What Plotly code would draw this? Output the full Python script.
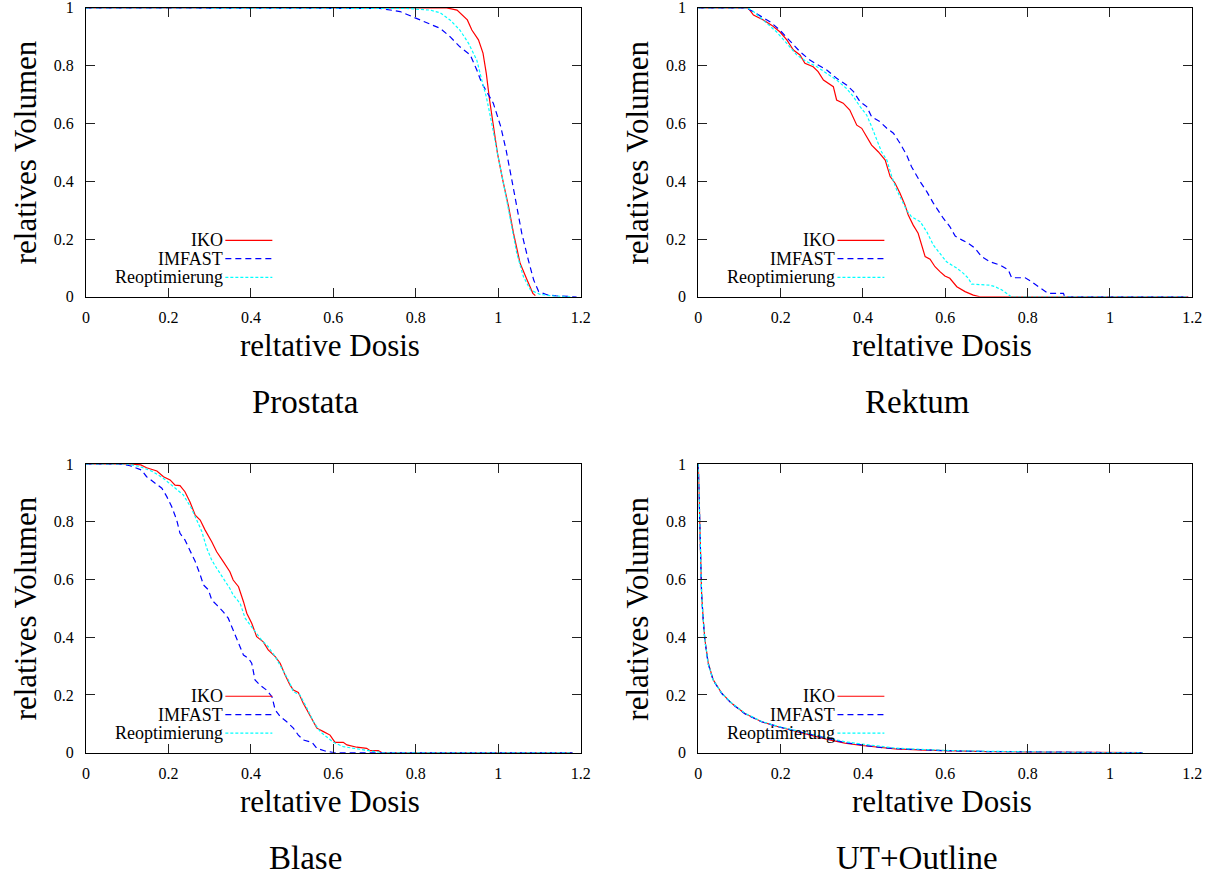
import plotly.graph_objects as go

# ---------------------------------------------------------------
# Dose-volume histograms (relative dose vs. relative volume)
# for three planning methods and four structures.
# ---------------------------------------------------------------

methods = ["IKO", "IMFAST", "Reoptimierung"]
structures = ["Prostata", "Rektum", "Blase", "UT+Outline"]

x_tick_vals = [0, 0.2, 0.4, 0.6, 0.8, 1.0, 1.2]
x_tick_text = ["0", "0.2", "0.4", "0.6", "0.8", "1", "1.2"]
y_tick_vals = [0, 0.2, 0.4, 0.6, 0.8, 1.0]
y_tick_text = ["0", "0.2", "0.4", "0.6", "0.8", "1"]

# --- Prostata ---
prostata_iko_dose = [0, 0.875, 0.90, 0.925, 0.936, 0.952, 0.963, 0.971, 0.979, 0.988, 0.998,
                     1.011, 1.025, 1.037, 1.053, 1.070, 1.084, 1.090]
prostata_iko_vol = [1, 1, 0.992, 0.958, 0.923, 0.889, 0.843, 0.773, 0.681, 0.589, 0.497,
                    0.404, 0.312, 0.220, 0.116, 0.058, 0.012, 0.004]
prostata_imfast_dose = [0, 0.70, 0.713, 0.762, 0.803, 0.859, 0.883, 0.907, 0.932, 0.948, 0.960,
                        0.972, 0.988, 1.006, 1.019, 1.033, 1.045, 1.057, 1.073, 1.086, 1.098,
                        1.118, 1.14, 1.19]
prostata_imfast_vol = [1, 1, 0.998, 0.987, 0.963, 0.929, 0.900, 0.865, 0.837, 0.785, 0.739,
                       0.710, 0.670, 0.589, 0.508, 0.404, 0.312, 0.220, 0.127, 0.058, 0.018,
                       0.007, 0.003, 0]
prostata_reopt_dose = [0, 0.76, 0.778, 0.835, 0.859, 0.883, 0.907, 0.928, 0.948, 0.960, 0.971,
                       0.981, 0.993, 1.006, 1.019, 1.033, 1.045, 1.061, 1.078, 1.10, 1.13, 1.18]
prostata_reopt_vol = [1, 1, 0.998, 0.992, 0.983, 0.958, 0.923, 0.877, 0.819, 0.750, 0.692,
                      0.623, 0.531, 0.439, 0.346, 0.243, 0.150, 0.070, 0.024, 0.009, 0.003, 0]

# --- Rektum ---
rektum_iko_dose = [0, 0.121, 0.134, 0.142, 0.158, 0.178, 0.198, 0.215, 0.231, 0.247, 0.259,
                   0.279, 0.291, 0.304, 0.328, 0.336, 0.352, 0.368, 0.377, 0.385, 0.397,
                   0.409, 0.421, 0.437, 0.454, 0.466, 0.478, 0.490, 0.502, 0.510, 0.522,
                   0.534, 0.543, 0.551, 0.563, 0.575, 0.587, 0.599, 0.611, 0.628, 0.648,
                   0.668, 0.684, 1.19]
rektum_iko_vol = [1, 1, 0.975, 0.969, 0.958, 0.940, 0.917, 0.889, 0.854, 0.837, 0.808,
                  0.796, 0.779, 0.750, 0.727, 0.681, 0.670, 0.646, 0.618, 0.594, 0.583,
                  0.554, 0.525, 0.502, 0.473, 0.416, 0.393, 0.358, 0.318, 0.283, 0.248,
                  0.220, 0.173, 0.139, 0.130, 0.104, 0.087, 0.072, 0.064, 0.035, 0.018,
                  0.006, 0, 0]
rektum_imfast_dose = [0, 0.117, 0.142, 0.174, 0.198, 0.223, 0.247, 0.271, 0.291, 0.312, 0.336,
                      0.360, 0.377, 0.393, 0.409, 0.421, 0.441, 0.458, 0.474, 0.490, 0.506,
                      0.518, 0.539, 0.555, 0.571, 0.595, 0.611, 0.624, 0.640, 0.656, 0.672,
                      0.688, 0.709, 0.733, 0.753, 0.761, 0.794, 0.808, 0.826, 0.850, 0.887,
                      0.890, 1.19]
rektum_imfast_vol = [1, 1, 0.979, 0.952, 0.923, 0.883, 0.848, 0.819, 0.802, 0.785, 0.756,
                     0.733, 0.710, 0.675, 0.658, 0.623, 0.606, 0.583, 0.566, 0.531, 0.491,
                     0.450, 0.398, 0.364, 0.324, 0.272, 0.243, 0.210, 0.197, 0.185, 0.168,
                     0.139, 0.121, 0.110, 0.093, 0.066, 0.066, 0.054, 0.035, 0.012, 0.012,
                     0, 0]
rektum_reopt_dose = [0, 0.12, 0.134, 0.166, 0.190, 0.215, 0.239, 0.263, 0.288, 0.312, 0.336,
                     0.360, 0.377, 0.393, 0.409, 0.421, 0.433, 0.445, 0.458, 0.470, 0.482,
                     0.494, 0.506, 0.518, 0.539, 0.555, 0.571, 0.587, 0.603, 0.628, 0.644,
                     0.656, 0.664, 0.709, 0.721, 0.737, 0.753, 0.760, 1.19]
rektum_reopt_vol = [1, 1, 0.987, 0.946, 0.917, 0.877, 0.837, 0.814, 0.796, 0.773, 0.750,
                    0.721, 0.692, 0.658, 0.629, 0.589, 0.543, 0.502, 0.473, 0.416, 0.370,
                    0.335, 0.300, 0.277, 0.260, 0.225, 0.179, 0.150, 0.121, 0.099, 0.081,
                    0.064, 0.044, 0.040, 0.035, 0.024, 0.006, 0, 0]

# --- Blase ---
blase_iko_dose = [0, 0.107, 0.133, 0.147, 0.172, 0.188, 0.204, 0.216, 0.228, 0.240, 0.252,
                  0.265, 0.277, 0.289, 0.305, 0.317, 0.333, 0.349, 0.357, 0.370, 0.382,
                  0.390, 0.402, 0.414, 0.430, 0.442, 0.459, 0.471, 0.483, 0.495, 0.503,
                  0.515, 0.527, 0.544, 0.560, 0.576, 0.592, 0.604, 0.624, 0.633, 0.657,
                  0.681, 0.689, 0.709, 0.718, 1.18]
blase_iko_vol = [1, 1, 0.997, 0.987, 0.976, 0.956, 0.945, 0.927, 0.925, 0.904, 0.869,
                 0.823, 0.806, 0.771, 0.731, 0.696, 0.662, 0.627, 0.598, 0.575, 0.523,
                 0.483, 0.448, 0.402, 0.384, 0.356, 0.333, 0.310, 0.269, 0.234, 0.217,
                 0.209, 0.171, 0.125, 0.085, 0.073, 0.061, 0.036, 0.036, 0.027, 0.019,
                 0.015, 0.007, 0.007, 0, 0]
blase_imfast_dose = [0, 0.083, 0.107, 0.135, 0.147, 0.167, 0.184, 0.196, 0.208, 0.220, 0.228,
                     0.240, 0.252, 0.265, 0.277, 0.285, 0.297, 0.305, 0.317, 0.333, 0.345,
                     0.357, 0.370, 0.382, 0.394, 0.402, 0.410, 0.422, 0.438, 0.451, 0.459,
                     0.471, 0.487, 0.503, 0.515, 0.527, 0.548, 0.560, 0.580, 0.600, 1.18]
blase_imfast_vol = [1, 1, 0.994, 0.979, 0.956, 0.933, 0.916, 0.887, 0.852, 0.806, 0.760,
                    0.737, 0.702, 0.662, 0.616, 0.581, 0.564, 0.529, 0.512, 0.488, 0.466,
                    0.425, 0.379, 0.338, 0.327, 0.310, 0.252, 0.234, 0.217, 0.194, 0.148,
                    0.125, 0.107, 0.085, 0.061, 0.044, 0.036, 0.015, 0.006, 0, 0]
blase_reopt_dose = [0, 0.099, 0.131, 0.163, 0.188, 0.212, 0.236, 0.256, 0.269, 0.281, 0.293,
                    0.305, 0.317, 0.333, 0.349, 0.357, 0.374, 0.386, 0.398, 0.410, 0.426,
                    0.442, 0.459, 0.475, 0.491, 0.503, 0.519, 0.536, 0.552, 0.568, 0.584,
                    0.600, 0.624, 0.657, 0.689, 0.718, 1.18]
blase_reopt_vol = [1, 1, 0.991, 0.973, 0.950, 0.921, 0.893, 0.846, 0.806, 0.766, 0.708,
                   0.667, 0.639, 0.604, 0.569, 0.546, 0.517, 0.466, 0.442, 0.419, 0.390,
                   0.367, 0.333, 0.292, 0.252, 0.211, 0.200, 0.154, 0.107, 0.073, 0.055,
                   0.036, 0.021, 0.013, 0.006, 0, 0]

# --- UT+Outline ---
ut_iko_dose = [0, 0.002, 0.004, 0.006, 0.008, 0.012, 0.016, 0.024, 0.036, 0.057, 0.081,
               0.113, 0.154, 0.194, 0.235, 0.275, 0.316, 0.356, 0.397, 0.437, 0.478,
               0.55, 0.60, 0.70, 0.80, 0.90, 1.00, 1.08]
ut_iko_vol = [1, 0.898, 0.783, 0.667, 0.552, 0.460, 0.392, 0.312, 0.253, 0.206, 0.171,
              0.136, 0.107, 0.090, 0.076, 0.060, 0.045, 0.033, 0.025, 0.018, 0.013,
              0.009, 0.007, 0.004, 0.002, 0.001, 0.0005, 0]
ut_imfast_dose = [0, 0.002, 0.004, 0.006, 0.008, 0.012, 0.016, 0.024, 0.036, 0.057, 0.081,
                  0.113, 0.154, 0.194, 0.235, 0.275, 0.316, 0.356, 0.397, 0.437, 0.478,
                  0.55, 0.60, 0.70, 0.80, 0.90, 1.00, 1.08]
ut_imfast_vol = [1, 0.896, 0.780, 0.664, 0.550, 0.458, 0.388, 0.308, 0.251, 0.205, 0.170,
                 0.135, 0.107, 0.090, 0.076, 0.061, 0.046, 0.035, 0.027, 0.019, 0.014,
                 0.009, 0.007, 0.004, 0.002, 0.001, 0.0005, 0]
ut_reopt_dose = [0, 0.002, 0.004, 0.006, 0.008, 0.012, 0.016, 0.024, 0.036, 0.057, 0.081,
                 0.113, 0.154, 0.194, 0.235, 0.275, 0.316, 0.356, 0.397, 0.437, 0.478,
                 0.55, 0.60, 0.70, 0.80, 0.90, 1.00, 1.08]
ut_reopt_vol = [1, 0.900, 0.785, 0.668, 0.553, 0.462, 0.390, 0.309, 0.252, 0.206, 0.172,
                0.137, 0.108, 0.091, 0.077, 0.063, 0.049, 0.038, 0.030, 0.022, 0.016,
                0.011, 0.008, 0.005, 0.002, 0.001, 0.0005, 0]

panel_series = [
    [(prostata_iko_dose, prostata_iko_vol), (prostata_imfast_dose, prostata_imfast_vol),
     (prostata_reopt_dose, prostata_reopt_vol)],
    [(rektum_iko_dose, rektum_iko_vol), (rektum_imfast_dose, rektum_imfast_vol),
     (rektum_reopt_dose, rektum_reopt_vol)],
    [(blase_iko_dose, blase_iko_vol), (blase_imfast_dose, blase_imfast_vol),
     (blase_reopt_dose, blase_reopt_vol)],
    [(ut_iko_dose, ut_iko_vol), (ut_imfast_dose, ut_imfast_vol),
     (ut_reopt_dose, ut_reopt_vol)],
]

# ---------------------------------------------------------------
# Styling
# ---------------------------------------------------------------
W, H = 1215, 876
FONT = "Liberation Serif, Times New Roman, serif"
line_styles = [
    dict(color="#ff0000", width=1.2, dash="solid"),
    dict(color="#0000ff", width=1.2, dash="6px,4px"),
    dict(color="#00ffff", width=1.2, dash="3px,2px"),
]

# panel frames in pixels: (left, right, top, bottom)
frames = [
    (86.0, 580.7, 7.8, 296.8),
    (698.3, 1192.3, 7.8, 296.8),
    (86.0, 580.7, 464.0, 752.7),
    (698.3, 1192.3, 464.0, 752.7),
]

fig = go.Figure()
annotations = []
shapes = []

# legend geometry (data units inside each panel)
legend_rows = [0.1955, 0.1318, 0.0675]
legend_text_x = 0.337
legend_line_x = (0.338, 0.452)

for i, (struct, series) in enumerate(zip(structures, panel_series)):
    n = "" if i == 0 else str(i + 1)
    xa, ya = "x" + n, "y" + n
    left, right, top, bottom = frames[i]

    for (dose, vol), name, st in zip(series, methods, line_styles):
        fig.add_trace(go.Scatter(
            x=dose, y=vol, mode="lines", name=name, line=st,
            xaxis=xa, yaxis=ya, showlegend=False, hoverinfo="skip",
        ))

    axis_common = dict(
        showline=True, linecolor="black", linewidth=1, mirror="ticks",
        ticks="inside", ticklen=9, tickwidth=1, tickcolor="#222222",
        showgrid=False, zeroline=False, fixedrange=True, automargin=False,
        ticklabeloverflow="allow",
        tickfont=dict(family=FONT, size=16, color="black"),
    )
    fig.update_layout({
        "xaxis" + n: dict(axis_common, domain=[left / W, right / W], range=[0, 1.2],
                          tickvals=x_tick_vals, ticktext=x_tick_text,
                          anchor=ya, ticklabelstandoff=6),
        "yaxis" + n: dict(axis_common, domain=[1 - bottom / H, 1 - top / H], range=[0, 1],
                          tickvals=y_tick_vals, ticktext=y_tick_text,
                          anchor=xa, ticklabelstandoff=8),
    })

    # in-panel legend: label right-aligned, key line to its right
    for name, st, yr in zip(methods, line_styles, legend_rows):
        annotations.append(dict(
            x=legend_text_x, y=yr, xref=xa, yref=ya, text=name, showarrow=False,
            xanchor="right", yanchor="middle",
            font=dict(family=FONT, size=18, color="black"),
        ))
        shapes.append(dict(
            type="line", xref=xa, yref=ya, x0=legend_line_x[0], x1=legend_line_x[1],
            y0=yr, y1=yr, line=st,
        ))

    cx = (left + right) / 2
    cy = (top + bottom) / 2
    # axis titles
    annotations.append(dict(
        x=(cx - 3) / W, y=1 - (bottom + 49) / H, xref="paper", yref="paper",
        text="reltative Dosis", showarrow=False, xanchor="center", yanchor="middle",
        font=dict(family=FONT, size=31, color="black"),
    ))
    annotations.append(dict(
        x=(left - 61) / W, y=1 - cy / H, xref="paper", yref="paper",
        text="relatives Volumen", showarrow=False, textangle=-90,
        xanchor="center", yanchor="middle",
        font=dict(family=FONT, size=31, color="black"),
    ))
    # structure caption below each panel
    annotations.append(dict(
        x=(cx - 28) / W, y=1 - (bottom + 105) / H, xref="paper", yref="paper",
        text=struct, showarrow=False, xanchor="center", yanchor="middle",
        font=dict(family=FONT, size=33, color="black"),
    ))

fig.update_layout(
    width=W, height=H, autosize=False,
    margin=dict(l=0, r=0, t=0, b=0, autoexpand=False),
    paper_bgcolor="white", plot_bgcolor="white",
    annotations=annotations, shapes=shapes,
    showlegend=False,
)

fig.write_html("out.html", config={"displayModeBar": False})
